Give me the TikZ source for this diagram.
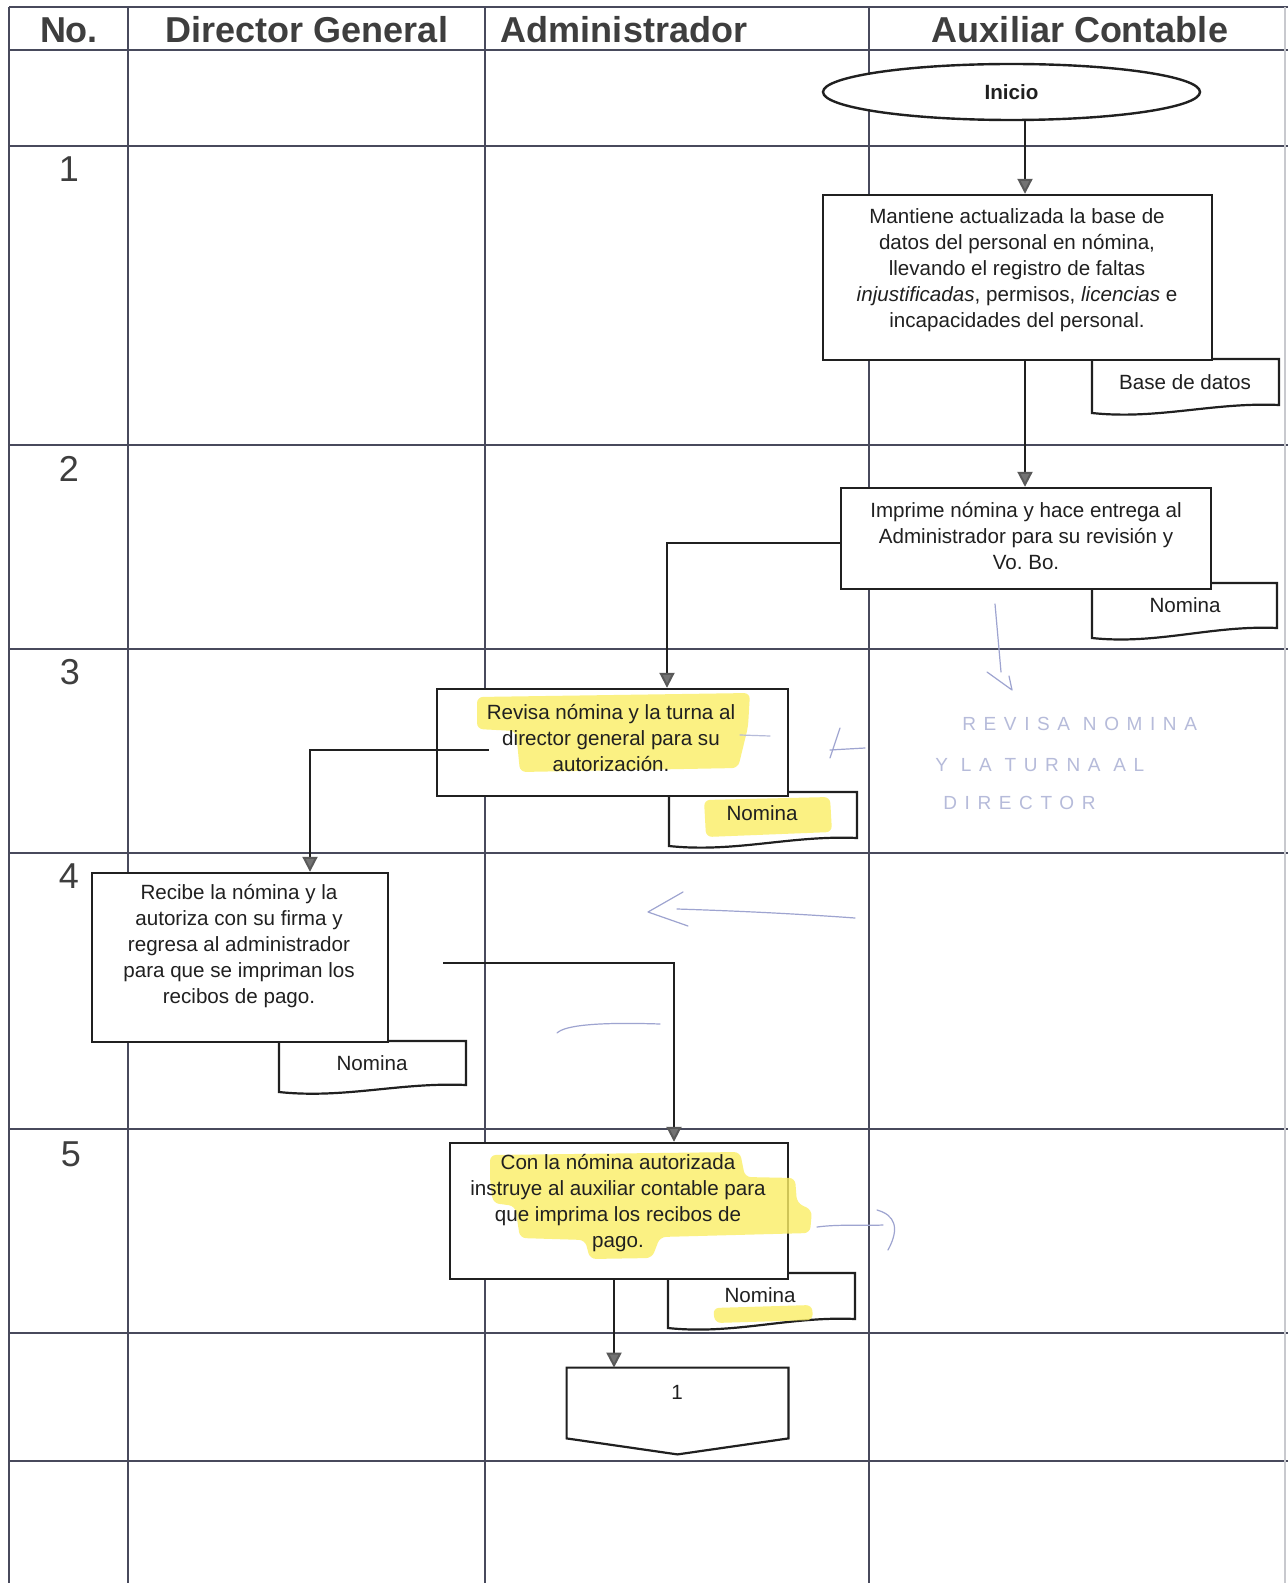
\documentclass[tikz,border=0pt]{standalone}
\usepackage{fontspec}
\setmainfont{Liberation Sans}
\newfontfamily\pencilfont[LetterSpace=40]{Liberation Sans}
\usetikzlibrary{shapes.geometric, arrows.meta, calc}
\frenchspacing

\definecolor{gridcol}{RGB}{72,74,92}
\definecolor{inkcol}{RGB}{32,32,32}
\definecolor{headcol}{RGB}{62,62,62}
\definecolor{hilite}{RGB}{250,238,100}
\definecolor{pencil}{RGB}{158,164,208}
\definecolor{pencilfaint}{RGB}{182,187,218}

\tikzset{
  gridline/.style={draw=gridcol, line width=0.75pt},
  headtxt/.style={font=\fontsize{18}{20}\selectfont\bfseries, text=headcol, anchor=base, inner sep=0},
  numtxt/.style={font=\fontsize{18}{20}\selectfont, text=headcol, anchor=base, inner sep=0},
  stepbox/.style={draw=inkcol, line width=1.2pt, fill=white, rectangle, inner sep=0},
  boxtxt/.style={font=\fontsize{10.3}{13}\selectfont, text=inkcol, align=center, inner sep=0},
  docline/.style={draw=inkcol, line width=1.1pt, fill=white, line join=miter},
  conn/.style={draw=inkcol, line width=1pt,
    -{Triangle[width=7.5pt,length=7.5pt,color=black!65,fill=black!55]}},
  hl/.style={fill=hilite, opacity=0.8, rounded corners=3pt},
  pen/.style={draw=pencil, line width=0.6pt, line cap=round, line join=round},
  pentxt/.style={font=\pencilfont\fontsize{9.5}{11}\selectfont, text=pencilfaint, anchor=base west, inner sep=0},
}

% document symbol: left x, top y, right x, bottom-left y, bottom-right y
\newcommand\docsym[5]{%
  \draw[docline] (#1,#2) -- (#3,#2) -- (#3,#5)
    .. controls ({#3-0.35*(#3-#1)},{#5-3}) and ({#1+0.35*(#3-#1)},{#4+7}) .. (#1,#4) -- cycle;}

\begin{document}
\begin{tikzpicture}[x=0.5pt, y=-0.5pt]
\useasboundingbox[fill=white] (0,0) rectangle (1288,1583);

% table grid
\foreach \yy in {7,50,146,445,649,853,1129,1333,1461}
  \draw[gridline] (9,\yy) -- (1288,\yy);
\foreach \xx in {9,128,485,869}
  \draw[gridline] (\xx,7) -- (\xx,1583);
\draw[gridline, draw=gridcol!30] (1285,7) -- (1285,1583);

% column headings
\node[headtxt] (hno) at (69,43) {No.};
\node[headtxt] (hdg) at (307,43) {Director General};
\node[headtxt] (had) at (624,43) {Administrador};
\node[headtxt] (hac) at (1080,43) {Auxiliar Contable};

% step numbers
\node[numtxt] (n1) at (69,182) {1};
\node[numtxt] (n2) at (69,481) {2};
\node[numtxt] (n3) at (70,684) {3};
\node[numtxt] (n4) at (69,888) {4};
\node[numtxt] (n5) at (71,1166) {5};

% documents attached to the steps
\docsym{1092}{359}{1279}{413}{405}
\docsym{1092}{583}{1277}{638}{628}
\docsym{669}{792}{857}{846}{838}
\docsym{279}{1041}{466}{1092}{1085}
\docsym{668}{1273}{855}{1328}{1319}

% start terminal
\node[ellipse, draw=inkcol, line width=1.2pt, fill=white, inner sep=0,
      minimum width=188.5pt, minimum height=28pt,
      font=\fontsize{10.3}{13}\selectfont\bfseries, text=inkcol] (ini) at (1011.5,92) {Inicio};

% process boxes
\node[stepbox, minimum width=194.5pt, minimum height=82.5pt] (b1) at (1017.5,277.5) {};
\node[stepbox, minimum width=185pt, minimum height=50.5pt] (b2) at (1026,538.5) {};
\node[stepbox, minimum width=175.5pt, minimum height=53.5pt] (b3) at (612.5,742.5) {};
\node[stepbox, minimum width=148pt, minimum height=84.5pt] (b4) at (240,957.5) {};
\node[stepbox, minimum width=169pt, minimum height=68pt] (b5) at (619,1211) {};

% off-page connector
\node[inner sep=0, minimum width=110.5pt, minimum height=35pt] (op) at (677.5,1403) {};
\draw[docline] (op.north west) -- (op.north east) -- (op.south east)
  -- ($(op.south)+(0,16)$) -- (op.south west) -- cycle;

% connectors
\coordinate (k0) at (1025,0);
\draw[conn] (k0 |- ini.south) -- (k0 |- b1.north);
\draw[conn] (k0 |- b1.south) -- (k0 |- b2.north);
\coordinate (k2) at (667,543);
\draw[conn] (b2.west |- k2) -- (k2) -- (k2 |- b3.north);
\coordinate (k3a) at ($(b3.west)+(53,7.5)$);
\coordinate (k3) at (310,750);
\draw[conn] (k3a) -- (k3) -- (k3 |- b4.north);
\coordinate (k4a) at (443,963);
\coordinate (k4) at (674,963);
\draw[conn] (k4a) -- (k4) -- (k4 |- b5.north);
\coordinate (k5) at (614,0);
\draw[conn] (k5 |- b5.south) -- (k5 |- op.north);

% highlighter marks
\fill[hl] (477,697) -- (750,693) -- (748,727) -- (738,768) -- (520,772) -- (516,731) -- (477,729) -- cycle;
\fill[hl] (704,800) -- (830,797) -- (832,832) -- (706,837) -- cycle;
\fill[hl] (490,1155) -- (740,1152) -- (745,1177) -- (795,1178) -- (797,1203) -- (812,1210)
  -- (810,1233) -- (660,1237) -- (652,1258) -- (590,1259) -- (585,1240) -- (520,1238)
  -- (515,1206) -- (493,1203) -- (490,1180) -- cycle;
\fill[hl] (713,1308) -- (812,1305) -- (813,1320) -- (715,1323) -- cycle;

% pencil annotations
\draw[pen] (995,604) -- (1001,672);
\draw[pen] (987,672) -- (1012,690) -- (1009,676);
\draw[pen] (840,728) -- (830,758);
\draw[pen] (830,750) -- (865,748);
\draw[pen, draw=pencilfaint] (740,735) -- (770,736);
\draw[pen] (677,909) .. controls (740,911) and (800,914) .. (855,918);
\draw[pen] (683,892) -- (648,912) -- (688,926);
\draw[pen] (557,1033) .. controls (565,1025) and (600,1022) .. (660,1024);
\draw[pen] (817,1227) .. controls (840,1224) and (860,1226) .. (883,1225);
\draw[pen] (877,1210) .. controls (895,1215) and (900,1228) .. (888,1250);
\node[pentxt] (hw1) at (962,730) {REVISA NOMINA};
\node[pentxt] (hw2) at (935,771) {Y LA TURNA AL};
\node[pentxt] (hw3) at (943,809) {DIRECTOR};

% box texts
\node[boxtxt] (t1) at (1017,270) {Mantiene actualizada la base de\\datos del personal en nómina,\\llevando el registro de faltas\\\textit{injustificadas}, permisos, \textit{licencias} e\\incapacidades del personal.};
\node[boxtxt] (t2) at (1026,536) {Imprime nómina y hace entrega al\\Administrador para su revisión y\\Vo. Bo.};
\node[boxtxt] (t3) at (611,738) {Revisa nómina y la turna al\\director general para su\\autorización.};
\node[boxtxt] (t4) at (239,946) {Recibe la nómina y la\\autoriza con su firma y\\regresa al administrador\\para que se impriman los\\recibos de pago.};
\node[boxtxt] (t5) at (618,1203) {Con la nómina autorizada\\instruye al auxiliar contable para\\que imprima los recibos de\\pago.};

% document labels
\node[boxtxt] (d1) at (1185,382) {Base de datos};
\node[boxtxt] (d2) at (1185,605) {Nomina};
\node[boxtxt] (d3) at (762,813) {Nomina};
\node[boxtxt] (d4) at (372,1063) {Nomina};
\node[boxtxt] (d5) at (760,1295) {Nomina};
\node[boxtxt] (opt) at (677,1392) {1};
\end{tikzpicture}
\end{document}
